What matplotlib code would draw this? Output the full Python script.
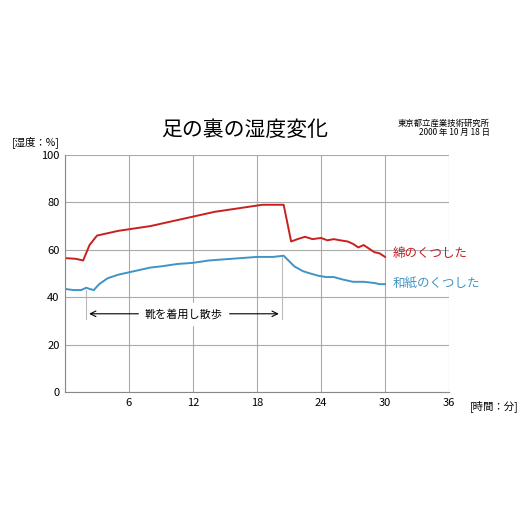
import matplotlib
matplotlib.use("Agg")
import matplotlib.pyplot as plt

plt.rcParams['font.family'] = ['Noto Sans CJK JP', 'DejaVu Sans']

red_x = [0, 1, 1.7, 2.3, 3, 4, 5, 6.5, 8, 9.5, 11, 12.5, 14, 15.5, 17, 18.5, 20.5, 21.2, 21.8, 22.5, 23.2, 24, 24.6, 25.2, 25.8, 26.5, 27, 27.5, 28, 28.5, 29, 29.5, 30]
red_y = [56.5, 56.2, 55.5, 62, 66, 67, 68, 69, 70, 71.5, 73, 74.5, 76, 77, 78, 79, 79, 63.5, 64.5, 65.5, 64.5, 65, 64, 64.5, 64, 63.5, 62.5, 61, 62, 60.5, 59, 58.5, 57]
blue_x = [0, 0.8, 1.5, 2.0, 2.3, 2.7, 3.2, 4, 5, 6, 7, 8, 9, 10.5, 12, 13.5, 15, 16.5, 18, 19.5, 20.5, 21.5, 22.3, 23, 23.8, 24.5, 25.2, 26, 27, 28, 29, 29.5, 30]
blue_y = [43.5, 43, 43, 44, 43.5, 43, 45.5, 48, 49.5, 50.5, 51.5, 52.5, 53, 54, 54.5, 55.5, 56, 56.5, 57, 57, 57.5, 53, 51, 50, 49, 48.5, 48.5, 47.5, 46.5, 46.5, 46, 45.5, 45.5]

fig = plt.figure(figsize=(5.2, 5.2), dpi=100)
ax = fig.add_axes([65/520, 1-392/520, 384/520, 237/520])
ax.plot(red_x, red_y, color='#c8201e', lw=1.4)
ax.plot(blue_x, blue_y, color='#3f94c4', lw=1.4)
ax.set_xlim(0, 36)
ax.set_ylim(0, 100)
ax.set_xticks(range(0, 37, 6))
ax.set_xticklabels(['', '6', '12', '18', '24', '30', '36'])
ax.set_yticks(range(0, 101, 20))
ax.grid(True, color='#aaaaaa', lw=0.8)
ax.tick_params(length=0, labelsize=8, pad=4)
for s in ['top', 'right']:
    ax.spines[s].set_visible(False)
ax.spines['left'].set_color('#888888')
ax.spines['bottom'].set_color('#888888')

ax.annotate('', xy=(2, 33), xytext=(20.3, 33), arrowprops=dict(arrowstyle='<->', color='black', lw=0.8))
ax.plot([2, 2], [31, 43], color='#bbbbbb', lw=0.8)
ax.plot([20.3, 20.3], [31, 57], color='#bbbbbb', lw=0.8)
ax.text(11.1, 33, '靴を着用し散歩', ha='center', va='center', fontsize=8, backgroundcolor='white')

ax.text(30.7, 58.5, '綿のくつした', color='#c8201e', fontsize=9, va='center')
ax.text(30.7, 46, '和紙のくつした', color='#3f94c4', fontsize=9, va='center')

fig.text(245/520, 1-130/520, '足の裏の湿度変化', ha='center', va='center', fontsize=15)
fig.text(490/520, 1-123/520, '東京都立産業技術研究所', ha='right', va='center', fontsize=6)
fig.text(490/520, 1-132/520, '2000 年 10 月 18 日', ha='right', va='center', fontsize=6)
fig.text(12/520, 1-142/520, '[湿度：%]', ha='left', va='center', fontsize=7.5)
fig.text(470/520, 1-406/520, '[時間：分]', ha='left', va='center', fontsize=7.5)
fig.savefig('out.png', dpi=100, facecolor='white')
